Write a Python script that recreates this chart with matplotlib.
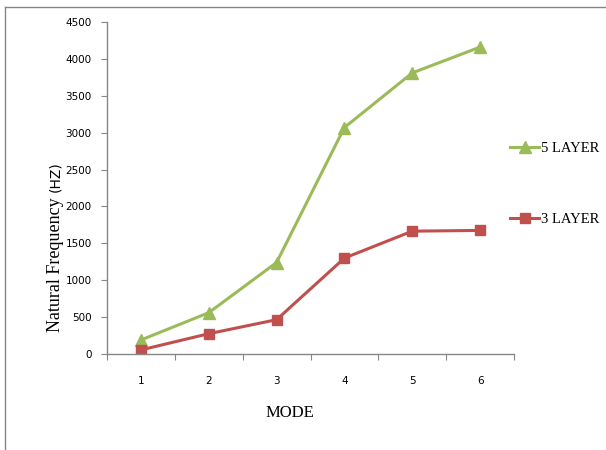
import matplotlib.pyplot as plt
from matplotlib.lines import Line2D

# Dados
modos = [1, 2, 3, 4, 5, 6]
camada5 = [190, 560, 1240, 3070, 3810, 4160]
camada3 = [55, 275, 465, 1300, 1665, 1675]
yticks = [0, 500, 1000, 1500, 2000, 2500, 3000, 3500, 4000, 4500]

verde = '#9BBB59'
vermelho = '#C0504D'
cinza = '#868686'

fig = plt.figure(figsize=(6.06, 4.5), dpi=100)
ax = fig.add_axes([107 / 606, 1 - 354 / 450, 407 / 606, 332 / 450])

ax.plot(modos, camada5, color=verde, lw=2.2, marker='^', ms=8, label='5 LAYER')
ax.plot(modos, camada3, color=vermelho, lw=2.2, marker='s', ms=7, label='3 LAYER')

ax.set_xlim(0.5, 6.5)
ax.set_ylim(0, 4500)
ax.set_yticks(yticks)
ax.set_yticklabels([str(v) for v in yticks], fontsize=7.5)

# ticks between categories, labels at the categories (Excel style)
ax.set_xticks([m - 0.5 for m in modos] + [6.5])
ax.set_xticklabels([])
ax.set_xticks(modos, minor=True)
ax.set_xticklabels([str(m) for m in modos], minor=True, fontsize=7.5)
ax.tick_params(axis='x', which='minor', length=0, pad=16)
ax.tick_params(axis='both', which='major', length=4, color=cinza, direction='out')
ax.tick_params(axis='y', pad=7)

for s in ['top', 'right']:
    ax.spines[s].set_visible(False)
for s in ['left', 'bottom']:
    ax.spines[s].set_color(cinza)
    ax.spines[s].set_linewidth(1)

fig.text(290 / 606, 1 - 413 / 450, 'MODE', family='Liberation Serif',
         fontsize=12, ha='center', va='center')
fig.text(55 / 606, 1 - 332 / 450, 'Natural Frequency', family='Liberation Serif',
         fontsize=13, rotation=90, ha='center', va='bottom')
fig.text(55 / 606, 1 - 192 / 450, '(HZ)', fontsize=10,
         rotation=90, ha='center', va='bottom')

ax.legend(loc='center left', bbox_to_anchor=(503 / 606, 1 - 184 / 450),
          bbox_transform=fig.transFigure, frameon=False, handlelength=2.0,
          handletextpad=0.1, labelspacing=4.0, borderpad=0,
          prop={'family': 'Liberation Serif', 'size': 10.5})

# moldura do grafico
fig.add_artist(Line2D([5 / 606, 1], [1 - 7 / 450, 1 - 7 / 450], color=cinza, lw=1))
fig.add_artist(Line2D([5 / 606, 5 / 606], [0, 1 - 7 / 450], color=cinza, lw=1))

fig.savefig('out.png', dpi=100)
